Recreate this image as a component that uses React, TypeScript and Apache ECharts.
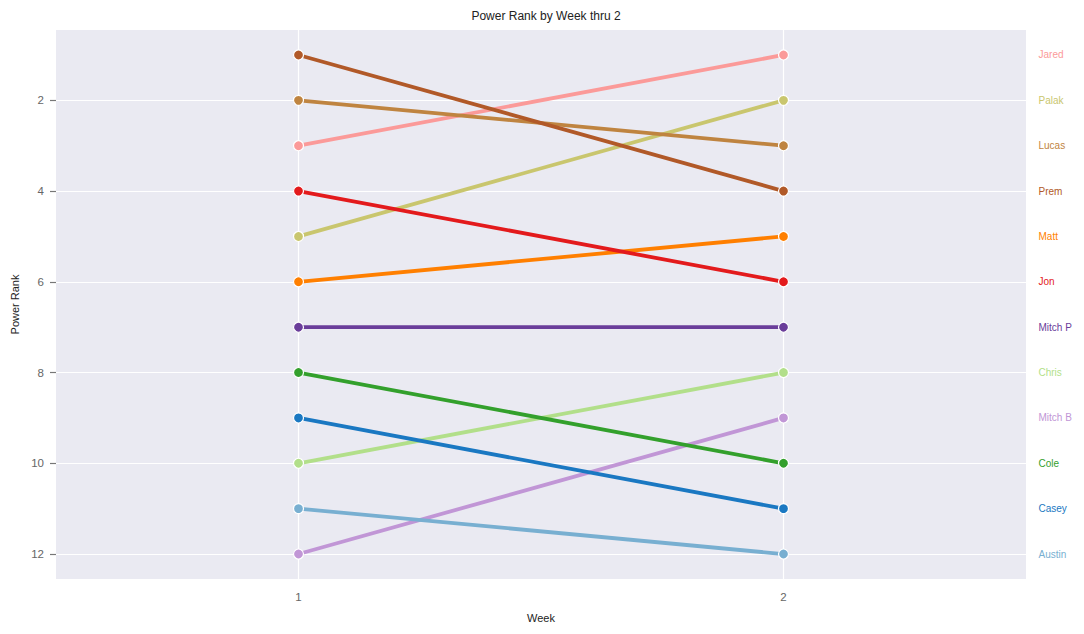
import React, { useEffect, useRef } from "react";
import * as echarts from "echarts";

const players = ["Jared", "Palak", "Lucas", "Prem", "Matt", "Jon", "Mitch P", "Chris", "Mitch B", "Cole", "Casey", "Austin"];
const week1 = [3, 5, 2, 1, 6, 4, 7, 10, 12, 8, 9, 11];
const week2 = [1, 2, 3, 4, 5, 6, 7, 8, 9, 10, 11, 12];
const weeks = [1, 2];
const rankTicks = [2, 4, 6, 8, 10, 12];
const colors = [
  "#FB9A99", "#C9C66E", "#BF8440", "#B15928", "#FF7F00", "#E31A1C",
  "#6A3D9A", "#B2DF8A", "#C196D6", "#33A02C", "#1A78C2", "#78AFD1",
];

const FONT = "Liberation Sans, Arial, sans-serif";

const App: React.FC = () => {
  const chartRef = useRef<HTMLDivElement | null>(null);

  useEffect(() => {
    const dom = chartRef.current;
    if (!dom) return;
    const chart = echarts.init(dom, undefined, { renderer: "svg" });

    const series = players.map((name, i) => ({
      name,
      type: "line",
      data: [
        [weeks[0], week1[i]],
        [weeks[1], week2[i]],
      ],
      symbol: "circle",
      symbolSize: 10,
      z: 3,
      lineStyle: { width: 3.8, color: colors[i] },
      itemStyle: { color: colors[i], borderColor: "#ffffff", borderWidth: 1.2 },
      endLabel: {
        show: true,
        formatter: name,
        color: colors[i],
        fontSize: 10,
        fontFamily: FONT,
        distance: 255,
      },
    }));

    chart.setOption({
      animation: false,
      backgroundColor: "#ffffff",
      title: {
        text: "Power Rank by Week thru 2",
        left: 541,
        textAlign: "center",
        top: 5,
        textStyle: { fontSize: 12, fontWeight: "normal", color: "#222", fontFamily: FONT },
      },
      grid: {
        left: 56,
        right: 58,
        top: 30,
        bottom: 55,
        show: true,
        backgroundColor: "#EAEAF2",
        borderWidth: 0,
      },
      xAxis: {
        type: "value",
        min: 0.5,
        max: 2.5,
        name: "Week",
        nameLocation: "middle",
        nameGap: 33,
        nameTextStyle: { fontSize: 11, color: "#222", fontFamily: FONT },
        axisLine: { show: false },
        axisTick: { show: false, customValues: weeks },
        axisLabel: { customValues: weeks, color: "#666", fontSize: 11.5, margin: 12, fontFamily: FONT },
        splitLine: { show: true, lineStyle: { color: "#ffffff", width: 1.2 } },
      },
      yAxis: {
        type: "value",
        inverse: true,
        min: 0.45,
        max: 12.55,
        name: "Power Rank",
        nameLocation: "middle",
        nameRotate: 90,
        nameGap: 36,
        nameTextStyle: { fontSize: 11, color: "#222", fontFamily: FONT },
        axisLine: { show: false },
        axisTick: { show: true, customValues: rankTicks, length: 6, lineStyle: { color: "#777", width: 1.2 } },
        axisLabel: { customValues: rankTicks, color: "#666", fontSize: 11.5, margin: 12, fontFamily: FONT },
        splitLine: { show: true, lineStyle: { color: "#ffffff", width: 1.2 } },
      },
      series,
    });

    return () => {
      chart.dispose();
    };
  }, []);

  return (
    <div
      ref={chartRef}
      style={{ position: "fixed", top: 0, left: 0, width: 1084, height: 634 }}
    />
  );
};

export default App;
